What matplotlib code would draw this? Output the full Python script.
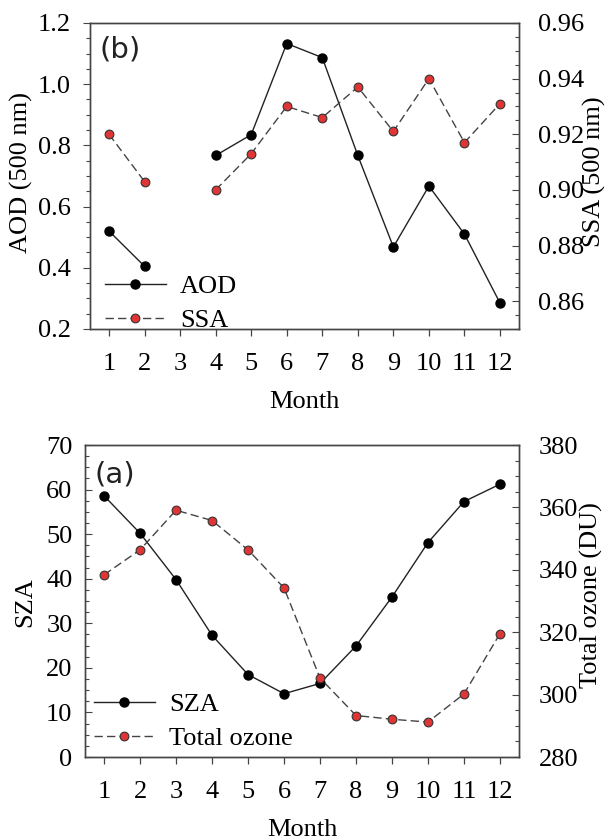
import numpy as np
import matplotlib
matplotlib.use("Agg")
import matplotlib.pyplot as plt
from matplotlib.ticker import MultipleLocator

months = [1, 2, 3, 4, 5, 6, 7, 8, 9, 10, 11, 12]
aod = [0.52, 0.405, np.nan, 0.767, 0.835, 1.133, 1.087, 0.767, 0.468, 0.667, 0.51, 0.285]
ssa = [0.920, 0.903, np.nan, 0.900, 0.913, 0.930, 0.926, 0.937, 0.921, 0.940, 0.917, 0.931]
sza = [58.6, 50.2, 39.8, 27.3, 18.5, 14.2, 16.5, 24.9, 35.9, 48.1, 57.3, 61.2]
ozone = [338.4, 346.4, 359.1, 355.8, 346.4, 334.2, 305.3, 293.3, 292.1, 291.2, 300.2, 319.5]

plt.rcParams['font.family'] = ['Liberation Serif', 'DejaVu Serif']
FS = 19
W, H = 608, 840
fig = plt.figure(figsize=(W / 100, H / 100), dpi=100)

def ax_rect(l, t, r, b):
    return [l / W, 1 - b / H, (r - l) / W, (b - t) / H]

spine_c = '#444444'
red = '#e03535'

def style(ax, axr, left_in):
    for a in (ax, axr):
        for s in a.spines.values():
            s.set_color(spine_c)
            s.set_linewidth(1.0)
    ax.set_xticks(months)
    ax.tick_params(axis='x', direction='out', length=5, width=0.9, color=spine_c,
                   labelsize=FS, pad=12, top=False)
    ax.tick_params(axis='y', which='both', direction='in' if left_in else 'out',
                   width=0.8, color=spine_c, labelsize=FS, pad=9, right=False)
    ax.tick_params(axis='y', which='major', length=5)
    ax.tick_params(axis='y', which='minor', length=3)
    axr.tick_params(axis='y', which='both', direction='in', width=0.8, color=spine_c,
                    labelsize=FS, pad=14, left=False)
    axr.tick_params(axis='y', which='major', length=5)
    axr.tick_params(axis='y', which='minor', length=3)

# ---------- Top panel (b) ----------
ax1 = fig.add_axes(ax_rect(90, 23, 519, 329))
ax1r = ax1.twinx()
ax1.set_xlim(0.465, 12.535)
ax1.set_ylim(0.2, 1.2)
ax1r.set_ylim(0.85, 0.96)
ax1.yaxis.set_major_locator(MultipleLocator(0.2))
ax1.yaxis.set_minor_locator(MultipleLocator(0.05))
ax1r.yaxis.set_major_locator(MultipleLocator(0.02))
ax1r.yaxis.set_minor_locator(MultipleLocator(0.005))
ax1.yaxis.set_major_formatter(matplotlib.ticker.FormatStrFormatter('%.1f'))
ax1r.yaxis.set_major_formatter(matplotlib.ticker.FormatStrFormatter('%.2f'))
style(ax1, ax1r, False)

l1, = ax1.plot(months, aod, '-', color='#222222', lw=1.0, marker='o', ms=6.5,
               mfc='black', mec='black', label='AOD', zorder=3)
l2, = ax1r.plot(months, ssa, '--', color='#444444', lw=1.0, dashes=(6, 3), marker='o',
                ms=6.3, mfc=red, mec='#333333', mew=0.8, label='SSA', zorder=3)

ax1.set_xlabel('Month', fontsize=FS)
ax1.set_ylabel('AOD (500 nm)', fontsize=FS)
ax1r.set_ylabel('SSA (500 nm)', fontsize=FS)
ax1.xaxis.set_label_coords(0.5, -0.239)
ax1.yaxis.set_label_coords(-0.16, 0.513)
ax1r.yaxis.set_label_coords(1.175, 0.513)
for lab in (ax1.xaxis.label, ax1.yaxis.label, ax1r.yaxis.label):
    lab.set_va('center')
    lab.set_ha('center')

ax1.text(0.023, 0.912, '(b)', transform=ax1.transAxes, fontsize=21,
         family='DejaVu Sans', ha='left', va='center', color='#222222')
leg1 = ax1.legend(handles=[l1, l2], loc='lower left', bbox_to_anchor=(0.035, -0.01),
                  frameon=False, fontsize=FS, handlelength=2.3, handletextpad=0.55,
                  labelspacing=0.39, borderpad=0, borderaxespad=0)

# ---------- Bottom panel (a) ----------
ax2 = fig.add_axes(ax_rect(85, 445, 519, 757))
ax2r = ax2.twinx()
ax2.set_xlim(0.47, 12.53)
ax2.set_ylim(0, 70)
ax2r.set_ylim(280, 380)
ax2.yaxis.set_major_locator(MultipleLocator(10))
ax2.yaxis.set_minor_locator(MultipleLocator(2.5))
ax2r.yaxis.set_major_locator(MultipleLocator(20))
ax2r.yaxis.set_minor_locator(MultipleLocator(5))
style(ax2, ax2r, True)

l3, = ax2.plot(months, sza, '-', color='#222222', lw=1.0, marker='o', ms=6.5,
               mfc='black', mec='black', label='SZA', zorder=3)
l4, = ax2r.plot(months, ozone, '--', color='#444444', lw=1.0, dashes=(6, 3), marker='o',
                ms=6.3, mfc=red, mec='#333333', mew=0.8, label='Total ozone', zorder=3)

ax2.set_xlabel('Month', fontsize=FS)
ax2.set_ylabel('SZA', fontsize=FS)
ax2r.set_ylabel('Total ozone (DU)', fontsize=FS)
ax2.xaxis.set_label_coords(0.5, -0.234)
ax2.yaxis.set_label_coords(-0.138, 0.497)
ax2r.yaxis.set_label_coords(1.166, 0.519)
for lab in (ax2.xaxis.label, ax2.yaxis.label, ax2r.yaxis.label):
    lab.set_va('center')
    lab.set_ha('center')

ax2.text(0.023, 0.907, '(a)', transform=ax2.transAxes, fontsize=21,
         family='DejaVu Sans', ha='left', va='center', color='#222222')
leg2 = ax2.legend(handles=[l3, l4], loc='lower left', bbox_to_anchor=(0.021, 0.022),
                  frameon=False, fontsize=FS, handlelength=2.3, handletextpad=0.55,
                  labelspacing=0.39, borderpad=0, borderaxespad=0)

fig.savefig('out.png', dpi=100)
